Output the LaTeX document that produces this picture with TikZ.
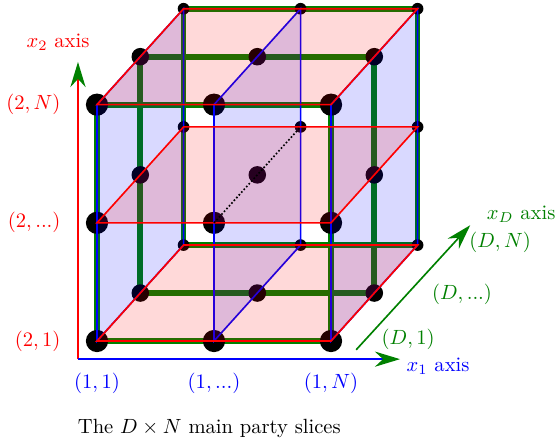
\documentclass[tikz,border=0pt]{standalone}
\usetikzlibrary{arrows.meta}
\colorlet{dgreen}{green!50!black}
\newcommand{\slicedots}{...}
\begin{document}
\begin{tikzpicture}[x=1cm,y=1cm,
    slice/.style={line width=0.8pt,fill opacity=0.15},
    dslice/.style={dgreen,line width=2.8pt},
    axtip/.style={-{Stealth[length=4.3mm,width=2.6mm,color=dgreen]},line width=0.8pt}]
    \useasboundingbox (-1.658,-1.709) rectangle (7.829,5.829);
    \foreach \i in {0,1,2} \foreach \j in {0,1,2} \foreach \k in {0,1,2}
      \coordinate (p\i\j\k) at ({2*\i+0.74*\k},{2.02*\j+0.82*\k});
    \foreach \k in {0,1,2}
      \draw[dslice] (p00\k) rectangle (p22\k);
    \foreach \k/\r in {2/0.1,1/0.15,0/0.19} \foreach \i in {0,1,2} \foreach \j in {0,1,2}
      \fill (p\i\j\k) circle (\r);
    \foreach \i in {0,1,2}
      \draw[slice,blue,fill=blue] (p\i00) -- (p\i20) -- (p\i22) -- (p\i02) -- cycle;
    \foreach \j in {0,1,2}
      \draw[slice,red,fill=red] (p0\j0) -- (p2\j0) -- (p2\j2) -- (p0\j2) -- cycle;
    \draw[densely dotted,line width=0.8pt] (p110) -- (p112);
    \coordinate (o) at (-0.325,-0.31);
    \coordinate (x2tip) at (-0.325,4.77);
    \coordinate (x1tip) at (5.18,-0.31);
    \coordinate (xDfoot) at (4.43,-0.15);
    \coordinate (xDtip) at (6.38,1.98);
    \draw[red,axtip] (o) -- (x2tip);
    \draw[blue,axtip] (o) -- (x1tip);
    \draw[dgreen,axtip] (xDfoot) -- (xDtip);
    \node[red] (x2lab) at (-0.667,5.11) {$x_2$ axis};
    \node[blue] (x1lab) at (5.83,-0.43) {$x_1$ axis};
    \node[dgreen] (xDlab) at (7.25,2.17) {$x_D$ axis};
    \foreach \j/\t in {0/1,1/\slicedots,2/N}
      \node[red,anchor=east] (l2\j) at (-0.5,2.02*\j) {$(2,\t)$};
    \foreach \i/\t in {0/1,1/\slicedots,2/N}
      \node[blue] (l1\i) at (2*\i,-0.72) {$(1,\t)$};
    \foreach \k/\t/\x/\y in {0/1/5.32/0.02,1/\slicedots/6.24/0.79,2/N/6.89/1.68}
      \node[dgreen] (lD\k) at (\x,\y) {$(D,\t)$};
    \node[anchor=west] (cap) at (-0.45,-1.49) {The $D\times N$ main party slices};
\end{tikzpicture}
\end{document}
